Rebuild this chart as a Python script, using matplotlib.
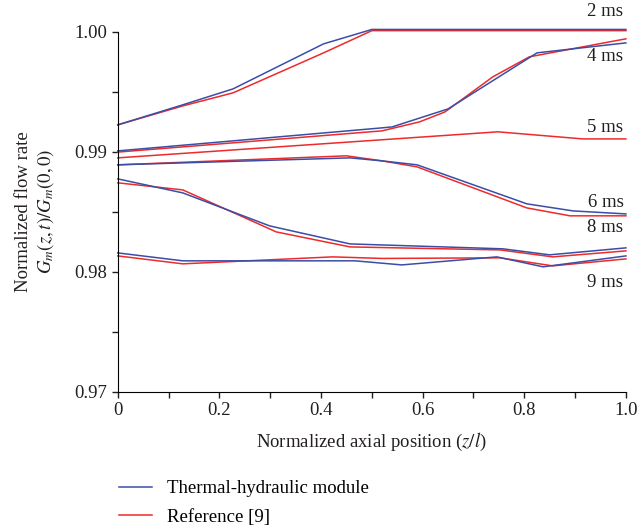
import matplotlib.pyplot as plt
from matplotlib.ticker import MultipleLocator

plt.rcParams['font.family'] = ['Liberation Serif', 'DejaVu Serif']
plt.rcParams['mathtext.fontset'] = 'stix'

# thermal-hydraulic module results (blue) and reference results (red)
x_2ms_m = [0.0, 0.128, 0.227, 0.405, 0.5, 1.0]
y_2ms_m = [0.99225, 0.99392, 0.99525, 0.999, 1.0002, 1.0002]
x_2ms_r = [0.0, 0.128, 0.227, 0.405, 0.5, 1.0]
y_2ms_r = [0.99225, 0.99383, 0.99492, 0.99825, 1.0001, 1.0001]

x_4ms_m = [0.0, 0.52, 0.54, 0.65, 0.825, 1.0]
y_4ms_m = [0.99008, 0.992, 0.99208, 0.99358, 0.99825, 0.99908]
x_4ms_r = [0.0, 0.52, 0.594, 0.644, 0.738, 0.81, 1.0]
y_4ms_r = [0.98998, 0.99175, 0.9925, 0.99333, 0.99625, 0.99792, 0.99942]

x_5ms_r = [0.0, 0.748, 0.915, 1.0]
y_5ms_r = [0.9895, 0.99167, 0.99108, 0.99108]

x_6ms_m = [0.0, 0.457, 0.52, 0.589, 0.805, 0.896, 1.0]
y_6ms_m = [0.98892, 0.9895, 0.98925, 0.98892, 0.98567, 0.98508, 0.98483]
x_6ms_r = [0.0, 0.45, 0.52, 0.589, 0.805, 0.89, 1.0]
y_6ms_r = [0.98892, 0.98967, 0.98925, 0.98875, 0.98533, 0.98467, 0.98467]

x_8ms_m = [0.0, 0.128, 0.299, 0.457, 0.758, 0.85, 1.0]
y_8ms_m = [0.98775, 0.98658, 0.98383, 0.98233, 0.98192, 0.98142, 0.982]
x_8ms_r = [0.0, 0.128, 0.312, 0.457, 0.752, 0.856, 1.0]
y_8ms_r = [0.98742, 0.98683, 0.98333, 0.98208, 0.98183, 0.98125, 0.98175]

x_9ms_m = [0.0, 0.128, 0.467, 0.559, 0.746, 0.837, 1.0]
y_9ms_m = [0.98158, 0.98092, 0.98092, 0.98058, 0.98125, 0.98042, 0.98133]
x_9ms_r = [0.0, 0.128, 0.423, 0.52, 0.752, 0.856, 1.0]
y_9ms_r = [0.98133, 0.98067, 0.98125, 0.98112, 0.98117, 0.9805, 0.98108]

time_labels = ['2 ms', '4 ms', '5 ms', '6 ms', '8 ms', '9 ms']
label_y = [1.0017, 0.99792, 0.992, 0.98575, 0.98367, 0.97908]

x_ticks = [0.0, 0.2, 0.4, 0.6, 0.8, 1.0]
x_tick_labels = ['0', '0.2', '0.4', '0.6', '0.8', '1.0']
y_ticks = [0.97, 0.98, 0.99, 1.0]
y_tick_labels = ['0.97', '0.98', '0.99', '1.00']

blue = '#3a4ea6'
red = '#ee2a2a'
ink = '#231f20'
fs = 13.5

fig = plt.figure(figsize=(6.4, 5.31), dpi=100)
ax = fig.add_axes([0.184, 0.262, 0.794, 0.678])

model = [(x_2ms_m, y_2ms_m), (x_4ms_m, y_4ms_m), (x_6ms_m, y_6ms_m),
         (x_8ms_m, y_8ms_m), (x_9ms_m, y_9ms_m)]
ref = [(x_2ms_r, y_2ms_r), (x_4ms_r, y_4ms_r), (x_5ms_r, y_5ms_r),
       (x_6ms_r, y_6ms_r), (x_8ms_r, y_8ms_r), (x_9ms_r, y_9ms_r)]

for i, (xs, ys) in enumerate(ref):
    ax.plot(xs, ys, color=red, lw=1.1, clip_on=False,
            label='Reference [9]' if i == 0 else None)
for i, (xs, ys) in enumerate(model):
    ax.plot(xs, ys, color=blue, lw=1.1, clip_on=False,
            label='Thermal-hydraulic module' if i == 0 else None)

for lab, yl in zip(time_labels, label_y):
    ax.text(0.995, yl, lab, ha='right', va='center', fontsize=fs, color=ink)

ax.set_xlim(0, 1.0)
ax.set_ylim(0.97, 1.0)
ax.set_xticks(x_ticks)
ax.set_xticklabels(x_tick_labels)
ax.set_yticks(y_ticks)
ax.set_yticklabels(y_tick_labels)
ax.xaxis.set_minor_locator(MultipleLocator(0.1))
ax.yaxis.set_minor_locator(MultipleLocator(0.005))
ax.tick_params(which='both', direction='out', length=4, width=1, labelsize=fs, colors=ink)
ax.spines['top'].set_visible(False)
ax.spines['right'].set_visible(False)

ax.set_xlabel('Normalized axial position ($z/l$)', fontsize=fs, color=ink, labelpad=8.5)
ax.set_ylabel('Normalized flow rate\n$G_m(z,t)/G_m(0,0)$', fontsize=fs, color=ink, labelpad=13)

handles, labels = ax.get_legend_handles_labels()
fig.legend(handles[::-1], labels[::-1], loc='upper left', bbox_to_anchor=(0.186, 0.096),
           frameon=False, fontsize=fs, handlelength=1.75, handletextpad=0.8,
           labelspacing=0.6, borderpad=0, borderaxespad=0)

fig.savefig('out.png', dpi=100)
